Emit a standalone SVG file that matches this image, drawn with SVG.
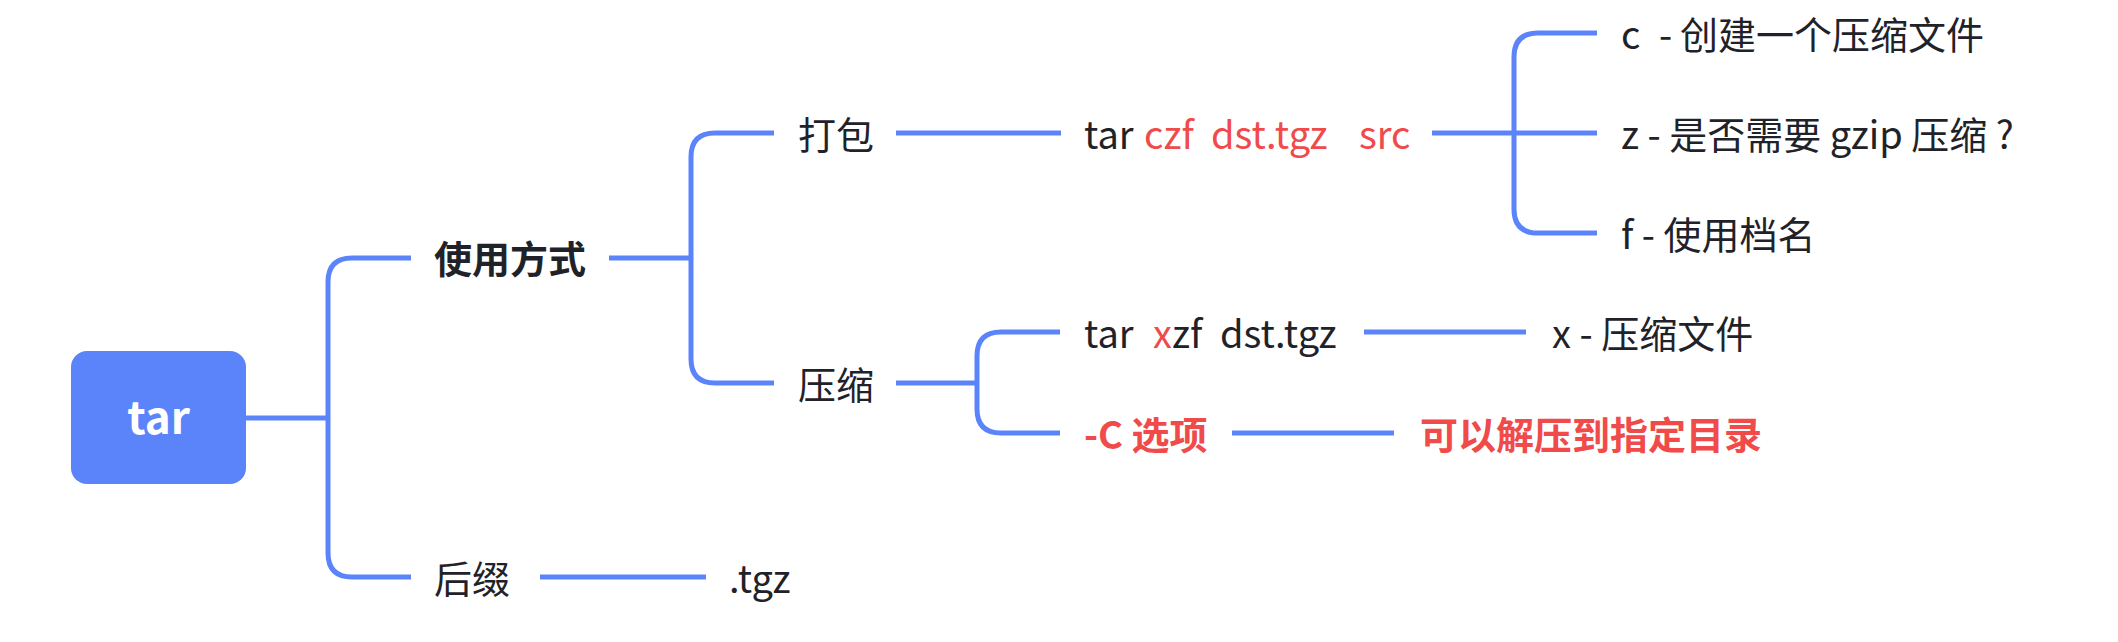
<svg xmlns="http://www.w3.org/2000/svg" width="2118" height="642" viewBox="0 0 2118 642">
<style>
text{font-family:"Noto Sans CJK SC","Noto Sans",sans-serif;font-size:38px;fill:#1f2329}
.b{font-weight:bold}
.r{fill:#f04a4a}
.conn path{fill:none;stroke:#5b84fb;stroke-width:5;stroke-linecap:butt}
</style>
<rect width="2118" height="642" fill="#ffffff"/>
<g class="conn" id="connectors">
<path d="M246,418 H328"/>
<path d="M411,258 H352 Q328,258 328,282 V553 Q328,577 352,577 H411"/>
<path d="M609,258 H691"/>
<path d="M774,133 H715 Q691,133 691,157 V359 Q691,383 715,383 H774"/>
<path d="M896,133 H1061"/>
<path d="M1432,133 H1597"/>
<path d="M1597,33 H1538 Q1514,33 1514,57 V209 Q1514,233 1538,233 H1597"/>
<path d="M896,383 H977"/>
<path d="M1060,332 H1001 Q977,332 977,356 V409 Q977,433 1001,433 H1060"/>
<path d="M1364,332 H1526"/>
<path d="M1232,433 H1394"/>
<path d="M540,577 H706"/>
</g>
<g id="root">
<rect x="71" y="351" width="175" height="133" rx="16" fill="#5b84fb"/>
<text x="158.5" y="434" text-anchor="middle" class="b" style="fill:#ffffff;font-size:44px">tar</text>
</g>
<g id="usage"><text x="434" y="273" class="b">使用方式</text></g>
<g id="suffix"><text x="434" y="593">后缀</text></g>
<g id="tgz"><text x="729" y="593">.tgz</text></g>
<g id="pack"><text x="798" y="149">打包</text></g>
<g id="compress"><text x="798" y="399">压缩</text></g>
<g id="cmd-czf"><text y="149"><tspan x="1084">tar</tspan><tspan x="1144" class="r">czf</tspan><tspan x="1211" class="r">dst.tgz</tspan><tspan x="1359" class="r">src</tspan></text></g>
<g id="opt-c"><text y="49"><tspan x="1621">c</tspan><tspan x="1659">-</tspan><tspan x="1680">创建一个压缩文件</tspan></text></g>
<g id="opt-z"><text x="1621" y="149">z - 是否需要 gzip 压缩 ?</text></g>
<g id="opt-f"><text x="1621" y="249">f - 使用档名</text></g>
<g id="cmd-xzf"><text y="348"><tspan x="1084">tar</tspan><tspan x="1153" class="r">x</tspan><tspan>zf</tspan><tspan x="1220">dst.tgz</tspan></text></g>
<g id="opt-x"><text x="1552" y="348">x - 压缩文件</text></g>
<g id="opt-C"><text x="1084" y="449" class="b r">-C 选项</text></g>
<g id="extract-dir"><text x="1420" y="449" class="b r">可以解压到指定目录</text></g>
</svg>
